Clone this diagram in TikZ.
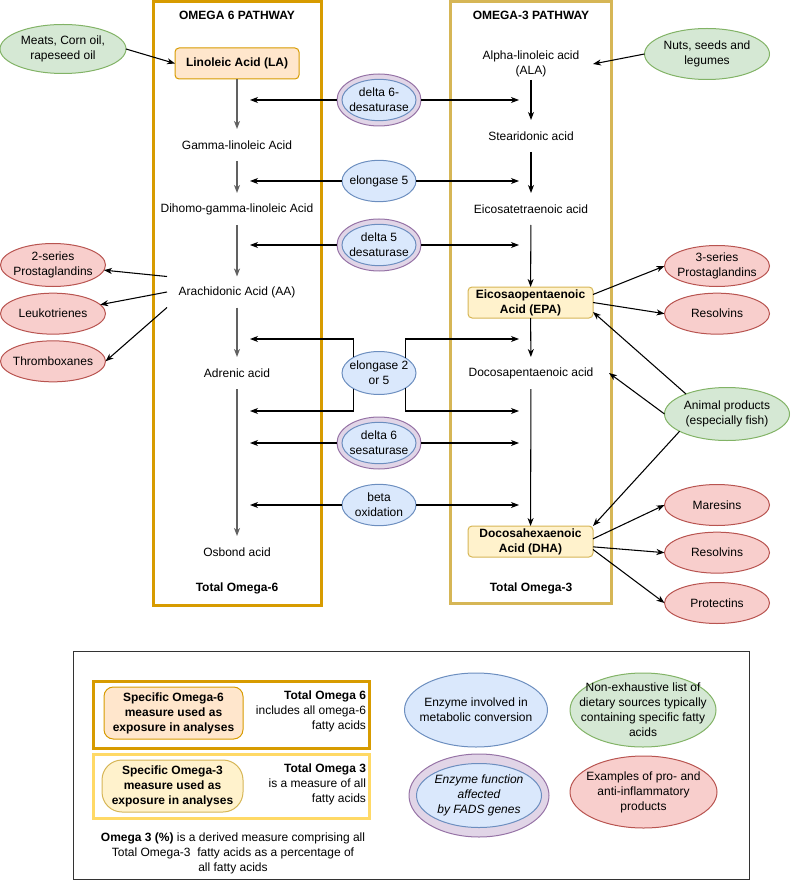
\documentclass[tikz,border=0pt]{standalone}
\usepackage{fontspec}
\setmainfont{Liberation Sans}
\usetikzlibrary{positioning,shapes.geometric,arrows.meta}

% drawio palette
\definecolor{greenfill}{HTML}{D5E8D4}
\definecolor{greendraw}{HTML}{82B366}
\definecolor{redfill}{HTML}{F8CECC}
\definecolor{reddraw}{HTML}{B85450}
\definecolor{bluefill}{HTML}{DAE8FC}
\definecolor{bluedraw}{HTML}{6C8EBF}
\definecolor{purplefill}{HTML}{E1D5E7}
\definecolor{purpledraw}{HTML}{9673A6}
\definecolor{orangefill}{HTML}{FFE6CC}
\definecolor{orangedraw}{HTML}{D79B00}
\definecolor{yellowfill}{HTML}{FFF2CC}
\definecolor{yellowdraw}{HTML}{D6B656}
\definecolor{yellowframe}{HTML}{FFD966}

\newcommand{\dfont}{\fontsize{9}{11.2}\selectfont}

\tikzset{
  acid/.style={minimum width=93pt, minimum height=24pt, inner sep=0pt, outer sep=0pt, align=center, font=\dfont},
  keytext/.style={inner sep=0pt, outer sep=0pt, font=\dfont},
  title/.style={inner sep=0pt, font=\dfont\bfseries},
  keyacid/.style={draw=orangedraw, fill=orangefill, rounded corners=3pt, line width=0.75pt, minimum width=93pt, minimum height=23.25pt, inner sep=1pt, outer sep=0pt, align=center, font=\dfont\bfseries},
  epabox/.style={keyacid, draw=yellowdraw, fill=yellowfill, minimum width=93.75pt},
  blob/.style={ellipse, line width=0.75pt, inner xsep=-14pt, inner ysep=-8pt, outer sep=0pt, align=center, font=\dfont},
  diet/.style={blob, draw=greendraw, fill=greenfill},
  product/.style={blob, draw=reddraw, fill=redfill, minimum width=78.75pt, minimum height=30.75pt},
  enzyme/.style={blob, draw=bluedraw, fill=bluefill, minimum width=55.5pt, minimum height=31pt},
  fadsring/.style={blob, draw=purpledraw, fill=purplefill, minimum width=63pt, minimum height=39pt},
  arr/.style={-{Stealth[length=6pt,width=4.5pt,inset=1.8pt]}, line width=0.8pt},
  arrsix/.style={arr, draw=black!62, line width=1.05pt},
}

\begin{document}
\begin{tikzpicture}[x=0.75pt, y=-0.75pt]
    \useasboundingbox (0,0) rectangle (791,880);

    % Pathway frames
    \draw[orangedraw, line width=2.25pt] (153,1.5) rectangle (321,605);
    \draw[yellowdraw, line width=2.25pt] (450,1.5) rectangle (611,603);
    \node[title] (t6) at (237,15) {OMEGA 6 PATHWAY};
    \node[title] (t3) at (531,15) {OMEGA-3 PATHWAY};

    % Omega-6 nodes
    \node[keyacid] (la) at (237,63.5) {Linoleic Acid (LA)};
    \node[acid] (gla) at (237,145) {Gamma-linoleic Acid};
    \node[acid] (dgla) at (237,209) {Dihomo-gamma-linoleic Acid};
    \node[acid, minimum width=105pt, minimum height=23.25pt] (aa) at (237,292) {Arachidonic Acid (AA)};
    \node[acid] (adr) at (237,373) {Adrenic acid};
    \node[acid] (osb) at (237,552) {Osbond acid};
    \node[title] (tot6) at (237,588) {Total Omega-6};

    % Omega-3 nodes
    \node[acid] (ala) at (531,64) {Alpha-linoleic acid\\(ALA)};
    \node[acid] (sda) at (531,136) {Stearidonic acid};
    \node[acid] (eta) at (531,209) {Eicosatetraenoic acid};
    \node[epabox] (epa) at (530.5,302.5) {Eicosaopentaenoic\\Acid (EPA)};
    \node[acid, minimum width=117pt] (dpa) at (531,373) {Docosapentaenoic acid};
    \node[epabox] (dha) at (530.5,541.5) {Docosahexaenoic\\Acid (DHA)};
    \node[title] (tot3) at (531,588) {Total Omega-3};

    % Enzymes
    \node[fadsring] (d6a) at (379,100) {};
    \node[enzyme] (d6ain) at (d6a) {delta 6-\\desaturase};
    \node[enzyme] (el5) at (379,181) {elongase 5};
    \node[fadsring] (d5) at (379,245) {};
    \node[enzyme] (d5in) at (d5) {delta 5\\desaturase};
    \node[enzyme, minimum height=32.25pt] (el25) at (379,373) {elongase 2\\or 5};
    \node[fadsring] (d6b) at (379,443) {};
    \node[enzyme] (d6bin) at (d6b) {delta 6\\sesaturase};
    \node[enzyme] (beta) at (379,505) {beta\\oxidation};

    % Dietary sources
    \node[diet, minimum width=94.5pt, minimum height=36.75pt] (meats) at (63,49) {Meats, Corn oil,\\rapeseed oil};
    \node[diet, minimum width=93.75pt, minimum height=38.25pt] (nuts) at (707,54) {Nuts, seeds and\\legumes};
    \node[diet, minimum width=93.75pt, minimum height=39.75pt] (animal) at (727,414) {Animal products\\(especially fish)};

    % Products
    \node[product, minimum height=32.25pt] (pg2) at (53,265) {2-series\\Prostaglandins};
    \node[product, below=5pt of pg2] (leuk) {Leukotrienes};
    \node[product, below=5pt of leuk] (thromb) {Thromboxanes};
    \node[product] (pg3) at (717,266) {3-series\\Prostaglandins};
    \node[product, below=5pt of pg3] (res1) {Resolvins};
    \node[product] (mar) at (717,505) {Maresins};
    \node[product, below=5pt of mar] (res2) {Resolvins};
    \node[product, below=7pt of res2] (prot) {Protectins};

    % Arrows
    \draw[arr] (meats.east) -- (la.west);
    \draw[arr] (nuts.west) -- (ala.east);

    \draw[arrsix] (la) -- (gla);
    \draw[arrsix] (gla) -- (dgla);
    \draw[arrsix] (dgla) -- (aa);
    \draw[arrsix] (aa) -- (adr);
    \draw[arrsix] (adr) -- (osb);

    \draw[arr] (ala) -- (sda);
    \draw[arr] (sda) -- (eta);
    \draw[arr] (eta) -- (epa);
    \draw[arr] (epa) -- (dpa);
    \draw[arr] (dpa) -- (dha);

    % enzyme arrows into both pathways
    \coordinate (lt) at (250,0);
    \coordinate (rt) at (519,0);
    \coordinate (elup) at (0,339);
    \coordinate (eldn) at (0,411);
    \draw[arr] (d6a.west) -- (d6a.west -| lt);
    \draw[arr] (d6a.east) -- (d6a.east -| rt);
    \draw[arr] (el5.west) -- (el5.west -| lt);
    \draw[arr] (el5.east) -- (el5.east -| rt);
    \draw[arr] (d5.west) -- (d5.west -| lt);
    \draw[arr] (d5.east) -- (d5.east -| rt);
    \draw[arr] (el25.148) |- (lt |- elup);
    \draw[arr] (el25.212) |- (lt |- eldn);
    \draw[arr] (el25.30) |- (rt |- elup);
    \draw[arr] (el25.330) |- (rt |- eldn);
    \draw[arr] (d6b.west) -- (d6b.west -| lt);
    \draw[arr] (d6b.east) -- (d6b.east -| rt);
    \draw[arr] (beta.west) -- (beta.west -| lt);
    \draw[arr] (beta.east) -- (beta.east -| rt);

    % products and sources
    \draw[arr] (aa.north west) -- (pg2);
    \draw[arr] (aa.west) -- (leuk);
    \draw[arr] (aa.south west) -- (thromb.east);
    \draw[arr] ([yshift=6pt]epa.east) -- (pg3.west);
    \draw[arr] (epa.east) -- (res1.west);
    \draw[arr] (animal.154) -- ([yshift=4.5pt]epa.south east);
    \draw[arr] (animal.west) -- (dpa.east);
    \draw[arr] (animal.200) -- (dha.north east);
    \draw[arr] ([yshift=2pt]dha.east) -- (mar.west);
    \draw[arr] ([yshift=-4pt]dha.east) -- (res2.west);
    \draw[arr] ([yshift=-6pt]dha.east) -- (prot.west);

    % Legend
    \draw[black!80, line width=0.75pt] (73,651) rectangle (749,879);
    \draw[orangedraw, line width=2.25pt] (93,681) rectangle (369,748);
    \draw[yellowframe, line width=2.25pt] (93,754) rectangle (369,818);
    \node[keyacid, rounded corners=7pt, minimum width=104.25pt, minimum height=39pt] (spec6) at (173.5,713) {Specific Omega-6\\measure used as\\exposure in analyses};
    \node[epabox, rounded corners=15pt, minimum width=105.75pt, minimum height=39pt] (spec3) at (172.5,786) {Specific Omega-3\\measure used as\\exposure in analyses};
    \node[keytext, anchor=east, align=right] (key6) at (366,711.5) {\textbf{Total Omega 6}\\includes all omega-6\\fatty acids};
    \node[keytext, anchor=east, align=right] (key3) at (366,784) {\textbf{Total Omega 3}\\is a measure of all\hspace*{3pt}\\fatty acids};
    \node[keytext, align=center] (keypct) at (233,853.5) {\textbf{Omega 3 (\%)} is a derived measure comprising all\\Total Omega-3~ fatty acids as a percentage of\\all fatty acids};
    \node[enzyme, minimum width=107.25pt, minimum height=55.5pt] (keyenz) at (476,710) {Enzyme involved in\\metabolic conversion};
    \node[diet, minimum width=109.5pt, minimum height=55.5pt] (keydiet) at (643,710) {Non-exhaustive list of\\dietary sources typically\\containing specific fatty\\acids};
    \node[fadsring, minimum width=105pt, minimum height=62.25pt] (keyring) at (479,795.5) {};
    \node[enzyme, minimum width=93.75pt, minimum height=48pt, font=\dfont\itshape] (keyfads) at (keyring) {Enzyme function\\affected\\by FADS genes};
    \node[product, minimum width=110.25pt, minimum height=54pt] (keyprod) at (643.5,792) {Examples of pro- and\\anti-inflammatory\\products};

\end{tikzpicture}
\end{document}
